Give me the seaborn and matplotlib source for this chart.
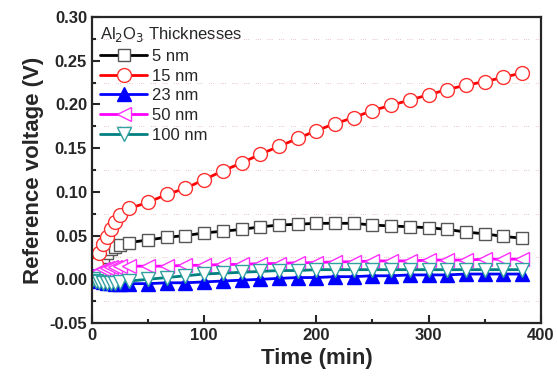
import numpy as np
import pandas as pd
import seaborn as sns
import matplotlib.pyplot as plt
from matplotlib.ticker import MultipleLocator

# time axis (min): dense at start, then every ~16.7 min
time_min = [1, 3.5, 6, 10, 13.5, 17, 21, 25, 33.3,
            50, 66.7, 83.3, 100, 116.7, 133.3, 150, 166.7, 183.3, 200,
            216.7, 233.3, 250, 266.7, 283.3, 300, 316.7, 333.3, 350, 366.7, 383.3]

v_5nm = [0.008, 0.018, 0.022, 0.026, 0.030, 0.035, 0.037, 0.039, 0.042,
         0.045, 0.048, 0.050, 0.053, 0.055, 0.057, 0.060, 0.062, 0.063, 0.064,
         0.064, 0.064, 0.062, 0.061, 0.060, 0.059, 0.057, 0.054, 0.052, 0.049, 0.047]

v_15nm = [0.009, 0.018, 0.030, 0.040, 0.048, 0.057, 0.066, 0.073, 0.081,
          0.088, 0.097, 0.104, 0.114, 0.124, 0.133, 0.143, 0.152, 0.161, 0.170,
          0.178, 0.185, 0.193, 0.199, 0.205, 0.211, 0.217, 0.222, 0.226, 0.231, 0.236]

v_23nm = [0.004, 0.000, -0.002, -0.003, -0.004, -0.004, -0.005, -0.005, -0.005,
          -0.005, -0.004, -0.004, -0.003, -0.002, -0.001, 0.000, 0.001, 0.002, 0.002,
          0.003, 0.003, 0.004, 0.004, 0.005, 0.005, 0.005, 0.006, 0.006, 0.006, 0.006]

v_50nm = [0.004, 0.008, 0.010, 0.012, 0.013, 0.014, 0.014, 0.015, 0.015,
          0.015, 0.015, 0.016, 0.016, 0.017, 0.017, 0.018, 0.018, 0.019, 0.019,
          0.020, 0.020, 0.021, 0.021, 0.021, 0.022, 0.022, 0.022, 0.023, 0.023, 0.023]

v_100nm = [0.000, -0.002, -0.003, -0.004, -0.004, -0.004, -0.004, -0.003, -0.002,
           0.000, 0.002, 0.004, 0.006, 0.007, 0.008, 0.009, 0.010, 0.010, 0.011,
           0.011, 0.011, 0.011, 0.011, 0.011, 0.011, 0.011, 0.011, 0.011, 0.011, 0.011]

labels = ['5 nm', '15 nm', '23 nm', '50 nm', '100 nm']
series = [v_5nm, v_15nm, v_23nm, v_50nm, v_100nm]
line_colors = ['black', 'red', 'blue', '#ff00ff', '#008080']
edge_colors = ['#555555', '#ff3030', 'blue', '#ff30ff', '#30a0a0']
face_colors = ['white', 'white', 'blue', 'white', 'white']
markers = ['s', 'o', '^', '<', 'v']
msizes = [9, 10, 9.5, 10.5, 10.5]

sns.set_style("ticks")
plt.rcParams['font.family'] = ['Liberation Sans', 'DejaVu Sans']

fig = plt.figure(figsize=(5.57, 3.85), dpi=100)
ax = fig.add_axes([0.165, 0.161, 0.806, 0.795])

for lab, vals, lc, ec, fc, mk, ms in zip(labels, series, line_colors, edge_colors,
                                         face_colors, markers, msizes):
    df = pd.DataFrame({'time': time_min, 'volt': vals})
    sns.lineplot(data=df, x='time', y='volt', ax=ax, color=lc, linewidth=2.0,
                 marker=mk, markersize=ms, markerfacecolor=fc,
                 markeredgecolor=ec, markeredgewidth=1.0, label=lab)

ax.set_xlim(0, 400)
ax.set_ylim(-0.05, 0.30)
ax.xaxis.set_major_locator(MultipleLocator(100))
ax.xaxis.set_minor_locator(MultipleLocator(50))
ax.yaxis.set_major_locator(MultipleLocator(0.05))
ax.yaxis.set_minor_locator(MultipleLocator(0.025))
ax.set_yticks(np.arange(-0.05, 0.301, 0.05))
ax.set_yticklabels([f'{v:.2f}' for v in np.arange(-0.05, 0.301, 0.05)])

ax.tick_params(which='both', direction='in', top=False, right=False, width=1.5,
               labelsize=12)
ax.tick_params(which='major', length=6)
ax.tick_params(which='minor', length=3)
for t in ax.get_xticklabels() + ax.get_yticklabels():
    t.set_fontweight('bold')
for s in ax.spines.values():
    s.set_linewidth(1.6)
    s.set_visible(True)

ax.yaxis.grid(True, which='minor', color='#e0b0b0', linestyle=(0, (1, 1.5, 1, 1.5, 1, 8)),
              linewidth=0.6)
ax.set_axisbelow(True)

ax.set_xlabel('Time (min)', fontsize=16, fontweight='bold')
ax.set_ylabel('Reference voltage (V)', fontsize=16, fontweight='bold')

leg = ax.legend(title=r'Al$_2$O$_3$ Thicknesses', loc='upper left', frameon=False,
                fontsize=12, title_fontsize=12, handlelength=2.8, labelspacing=0.28,
                borderaxespad=0.2, borderpad=0.3, handletextpad=0.3)
leg._legend_box.align = 'left'

fig.savefig('out.png', dpi=100)
